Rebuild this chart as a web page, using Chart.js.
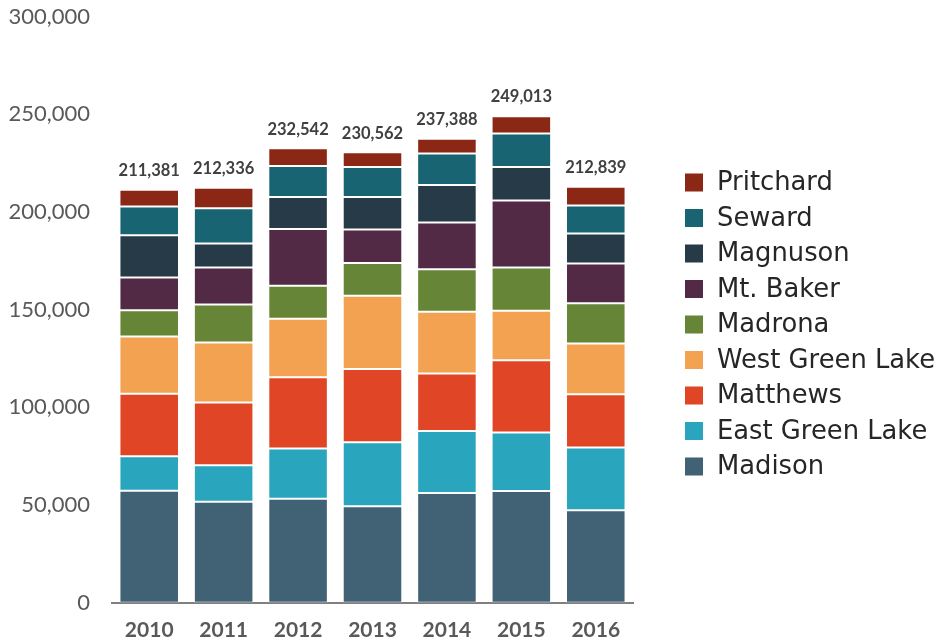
<!DOCTYPE html>
<html>
<head>
<meta charset="utf-8">
<script src="https://cdn.jsdelivr.net/npm/chart.js@4/dist/chart.umd.min.js"></script>
<style>
  html, body { margin: 0; padding: 0; background: #ffffff; }
  #wrap { width: 941px; height: 642px; }
</style>
</head>
<body>
<div id="wrap"><canvas id="c" width="941" height="642"></canvas></div>
<script>
const years = ['2010', '2011', '2012', '2013', '2014', '2015', '2016'];
const madison       = [57290, 51660, 53200, 49310, 56110, 57130, 47260];
const eastGreenLake = [17600, 18620, 25730, 32740, 31710, 30030, 32220];
const matthews      = [32070, 32220, 36470, 37490, 29510, 36980, 27260];
const westGreenLake = [29310, 30690, 29870, 37490, 31510, 25220, 25930];
const madrona       = [13450, 19440, 16880, 16880, 21840, 22200, 20610];
const mtBaker       = [16730, 18930, 29160, 17080, 23890, 34270, 20310];
const magnuson      = [21640, 12280, 16370, 16670, 19230, 17190, 15350];
const seward        = [14680, 18060, 15860, 15350, 16060, 17080, 14320];
const pritchard     = [8611, 10436, 9002, 7552, 7528, 8913, 9579];
const totals        = [211381, 212336, 232542, 230562, 237388, 249013, 212839];
const yTicks        = [0, 50000, 100000, 150000, 200000, 250000, 300000];

const series = [
  { label: 'Madison',         data: madison,       color: '#416174' },
  { label: 'East Green Lake', data: eastGreenLake, color: '#29a6be' },
  { label: 'Matthews',        data: matthews,      color: '#e04626' },
  { label: 'West Green Lake', data: westGreenLake, color: '#f3a251' },
  { label: 'Madrona',         data: madrona,       color: '#678536' },
  { label: 'Mt. Baker',       data: mtBaker,       color: '#532a45' },
  { label: 'Magnuson',        data: magnuson,      color: '#263a47' },
  { label: 'Seward',          data: seward,        color: '#186473' },
  { label: 'Pritchard',       data: pritchard,     color: '#8b2715' }
];

const totalLabels = {
  id: 'totalLabels',
  afterDatasetsDraw(chart) {
    const ctx = chart.ctx;
    const meta = chart.getDatasetMeta(chart.data.datasets.length - 1);
    ctx.save();
    ctx.font = 'bold 16.5px Lato';
    ctx.fillStyle = '#404040';
    ctx.textAlign = 'center';
    ctx.textBaseline = 'middle';
    meta.data.forEach((el, i) => {
      ctx.fillText(totals[i].toLocaleString('en-US'), el.x, el.y - 19);
    });
    ctx.restore();
  }
};

// Legend drawn beside the plot, items taken from the chart's datasets (top series first)
const sideLegend = {
  id: 'sideLegend',
  afterDraw(chart) {
    const ctx = chart.ctx;
    const ds = chart.data.datasets.slice().reverse();
    const left = chart.chartArea.right + 52;
    const rowH = 35.5;
    const firstY = 182.5;
    ctx.save();
    ctx.font = '25.8px "DejaVu Sans"';
    ctx.textBaseline = 'middle';
    ctx.textAlign = 'left';
    ds.forEach((d, i) => {
      const cy = firstY + i * rowH;
      ctx.fillStyle = d.backgroundColor;
      ctx.fillRect(left, cy - 9, 18, 18);
      ctx.fillStyle = '#262626';
      ctx.fillText(d.label, left + 32, cy + 1);
    });
    ctx.restore();
  }
};

new Chart(document.getElementById('c'), {
  type: 'bar',
  data: {
    labels: years,
    datasets: series.map(s => ({
      label: s.label,
      data: s.data,
      backgroundColor: s.color,
      borderColor: 'rgba(255,255,255,0.35)',
      borderWidth: 1,
      borderSkipped: false,
      barPercentage: 0.8,
      categoryPercentage: 1.0
    }))
  },
  options: {
    responsive: false,
    animation: false,
    layout: { autoPadding: false, padding: { top: 16.5, left: 8, right: 308, bottom: 0 } },
    scales: {
      x: {
        stacked: true,
        grid: { display: false, drawTicks: false },
        border: { display: true, color: '#7f7f7f', width: 2 },
        ticks: { color: '#595959', font: { family: 'Lato', size: 21, weight: 'bold' }, padding: 14.5 },
        afterFit(scale) {
          scale.height = 39.3;
          scale.paddingLeft = 0; scale.paddingRight = 0;
        }
      },
      y: {
        stacked: true,
        min: 0,
        max: 300000,
        afterBuildTicks(scale) { scale.ticks = yTicks.map(v => ({ value: v })); },
        grid: { display: false, drawTicks: false },
        border: { display: false },
        ticks: {
          color: '#595959',
          font: { family: 'Lato', size: 22 },
          padding: 22,
          callback: v => Number(v).toLocaleString('en-US')
        },
        afterFit(scale) {
          scale.width = 104;
          scale.paddingTop = 0; scale.paddingBottom = 0;
        }
      }
    },
    plugins: {
      tooltip: { enabled: false },
      legend: { display: false }
    }
  },
  plugins: [totalLabels, sideLegend]
});
</script>
</body>
</html>
